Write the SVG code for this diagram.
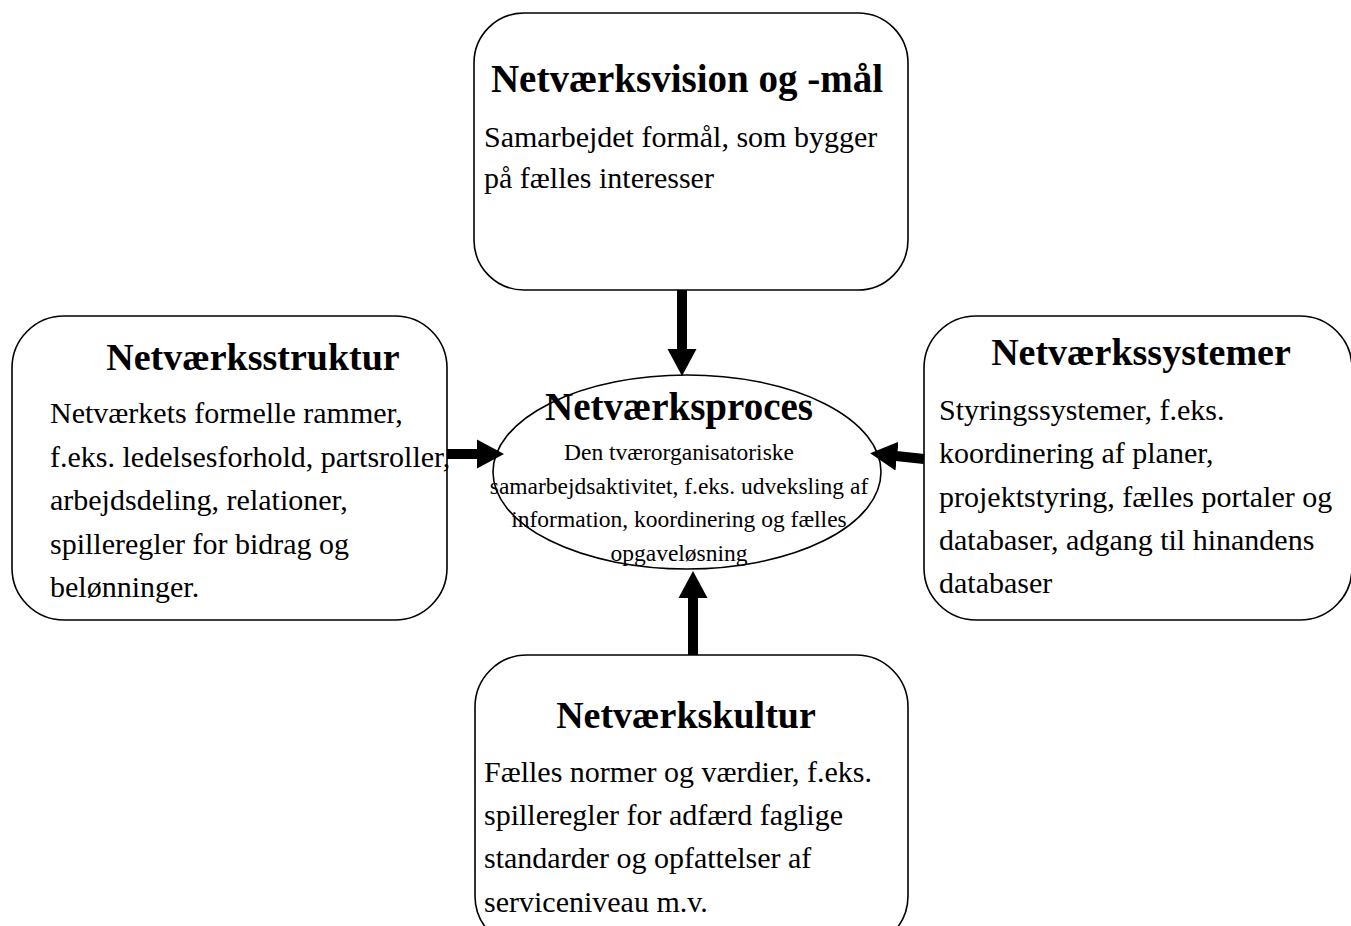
<svg xmlns="http://www.w3.org/2000/svg" width="1351" height="926" viewBox="0 0 1351 926">
  <style>
    .box { fill: #ffffff; stroke: #000000; stroke-width: 1.6; }
    .title { font-family: "Liberation Serif", "Times New Roman", serif; font-weight: bold; font-size: 38px; fill: #000000; text-anchor: middle; }
    .title.big { font-size: 39px; }
    .body { font-family: "Liberation Serif", "Times New Roman", serif; font-size: 30px; fill: #000000; }
    .small { font-family: "Liberation Serif", "Times New Roman", serif; font-size: 23.5px; fill: #000000; text-anchor: middle; }
    .arrow { stroke: #000000; stroke-width: 10; fill: none; marker-end: url(#head); }
  </style>
  <defs>
    <marker id="head" markerUnits="userSpaceOnUse" markerWidth="28" markerHeight="30" refX="1" refY="14.5" orient="auto" viewBox="0 0 28 29">
      <path d="M0,0 L27,14.5 L0,29 z" fill="#000000"/>
    </marker>
  </defs>

  <!-- top: vision and goals -->
  <g id="node-vision">
    <rect class="box" x="474" y="13" width="434" height="277" rx="50" ry="50"/>
    <text class="title big" x="687" y="92">Netværksvision og -mål</text>
    <text class="body" x="484" y="147">Samarbejdet formål, som bygger</text>
    <text class="body" x="484" y="188">på fælles interesser</text>
  </g>

  <!-- left: structure -->
  <g id="node-struktur">
    <rect class="box" x="12" y="316" width="435" height="304" rx="52" ry="52"/>
    <text class="title" x="253" y="370">Netværksstruktur</text>
    <text class="body" x="50" y="423">Netværkets formelle rammer,</text>
    <text class="body" x="50" y="466.5">f.eks. ledelsesforhold, partsroller,</text>
    <text class="body" x="50" y="510">arbejdsdeling, relationer,</text>
    <text class="body" x="50" y="553.5">spilleregler for bidrag og</text>
    <text class="body" x="50" y="597">belønninger.</text>
  </g>

  <!-- right: systems -->
  <g id="node-systemer">
    <rect class="box" x="924" y="316" width="428" height="304" rx="52" ry="52"/>
    <text class="title" x="1141" y="365">Netværkssystemer</text>
    <text class="body" x="939" y="420">Styringssystemer, f.eks.</text>
    <text class="body" x="939" y="463">koordinering af  planer,</text>
    <text class="body" x="939" y="506.5">projektstyring, fælles portaler og</text>
    <text class="body" x="939" y="550">databaser, adgang til hinandens</text>
    <text class="body" x="939" y="593">databaser</text>
  </g>

  <!-- bottom: culture -->
  <g id="node-kultur">
    <rect class="box" x="475" y="655" width="433" height="293" rx="52" ry="52"/>
    <text class="title" x="686" y="728">Netværkskultur</text>
    <text class="body" x="484" y="782">Fælles normer og værdier, f.eks.</text>
    <text class="body" x="484" y="825">spilleregler for adfærd faglige</text>
    <text class="body" x="484" y="868">standarder og opfattelser af</text>
    <text class="body" x="484" y="912">serviceniveau m.v.</text>
  </g>

  <!-- centre: process -->
  <g id="node-proces">
    <ellipse class="box" cx="687" cy="472" rx="194" ry="97"/>
    <text class="title big" x="679" y="420">Netværksproces</text>
    <text class="small" x="679" y="460">Den tværorganisatoriske</text>
    <text class="small" x="679" y="493.5">samarbejdsaktivitet, f.eks. udveksling af</text>
    <text class="small" x="679" y="527">information, koordinering og fælles</text>
    <text class="small" x="679" y="560.5">opgaveløsning</text>
  </g>

  <!-- connectors -->
  <g id="connectors">
    <line class="arrow" x1="682" y1="290" x2="682" y2="350"/>
    <line class="arrow" x1="693" y1="655" x2="693" y2="597"/>
    <line class="arrow" x1="447" y1="454" x2="478" y2="454"/>
    <line class="arrow" x1="924" y1="459" x2="896" y2="456"/>
  </g>
</svg>
